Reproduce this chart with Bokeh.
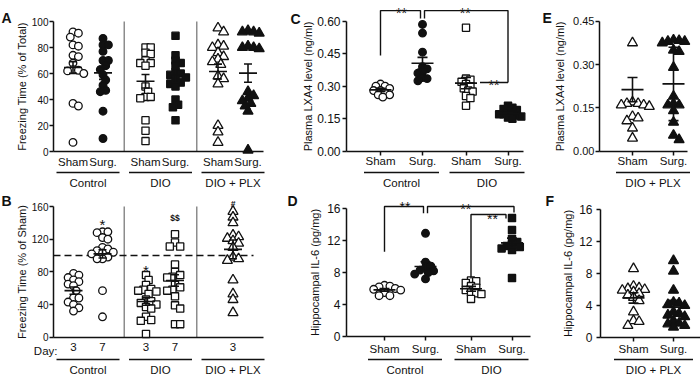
from bokeh.plotting import figure
from bokeh.models import (Range1d, FixedTicker, LinearAxis, PrintfTickFormatter,
                          CustomJSTickFormatter)
from bokeh.layouts import column, row
from bokeh.embed import file_html
from bokeh.resources import INLINE
from bokeh.core.properties import value

FONT = "Liberation Sans"
INK = "#111111"
RULE = "#8c8c8c"

# ---------------- A: freezing time, % of total ----------------
a_groups = ["Control", "DIO", "DIO + PLX"]
a_arms = ["Sham", "Surg."]
a_ctrl_sham = [92, 91, 88, 82, 81, 74, 73, 68, 63, 62.5, 62, 60, 37, 35, 7]
a_ctrl_surg = [87, 82, 82, 77, 70, 70, 66, 63, 59, 55, 51, 47, 46, 31, 10]
a_dio_sham = [80, 80, 76, 75, 70, 68, 68, 66, 50, 46, 42, 42, 41, 24, 16, 8]
a_dio_surg = [89, 74, 70, 68, 66, 61, 60, 59, 57, 55, 53, 52, 50, 40, 36, 34, 24]
a_plx_sham = [95, 92, 82, 81, 80, 76, 73, 71, 69, 67, 58, 56, 52, 20, 15, 7]
a_plx_surg = [93, 92, 92, 91, 81, 80, 80, 79, 46, 43, 41, 39, 37, 35, 31, 1]
a_mean = [64.6, 60.5, 54.0, 55.8, 61.5, 60.3]
a_sem = [4.5, 5.0, 5.2, 3.0, 5.7, 7.0]
a_ticks = [0, 20, 40, 60, 80, 100]

# ---------------- B: freezing time, % of sham ----------------
b_groups = ["Control", "DIO", "DIO + PLX"]
b_days = ["3", "7", "3", "7", "3"]
b_ctrl_d3 = [78, 76, 73, 70, 68, 65, 63, 57, 48, 48, 43, 40, 36, 32]
b_ctrl_d7 = [129, 129, 128, 122, 120, 110, 108, 106, 104, 103, 102, 98, 96, 96, 57, 25]
b_dio_d3 = [76, 70, 64, 59, 58, 57, 56, 53, 46, 44, 42, 40, 37, 35, 25, 21, 20, 4]
b_dio_d7 = [126, 116, 111, 111, 89, 80, 76, 74, 73, 64, 61, 58, 57, 50, 39, 35, 16, 16]
b_plx_d3 = [154, 147, 140, 125, 123, 121, 118, 115, 110, 98, 96, 94, 70, 53, 46, 30]
b_mean = [57.0, 102.0, 43.7, 69.4, 107.5]
b_sem = [4.5, 5.0, 4.5, 7.0, 11.5]
b_marks = ["", "*", "*", "$$", "#"]
b_ref = 100
b_ticks = [0, 40, 80, 120, 160]

# ---------------- C: plasma LXA4 ----------------
c_groups = ["Control", "DIO"]
c_arms = ["Sham", "Surg."]
c_ctrl_sham = [0.31, 0.30, 0.30, 0.29, 0.28, 0.28, 0.27, 0.26, 0.26, 0.25]
c_ctrl_surg = [0.585, 0.545, 0.457, 0.39, 0.38, 0.365, 0.36, 0.34, 0.335, 0.325]
c_dio_sham = [0.57, 0.335, 0.33, 0.32, 0.31, 0.30, 0.29, 0.28, 0.275, 0.255, 0.245, 0.21]
c_dio_surg = [0.21, 0.20, 0.195, 0.19, 0.18, 0.175, 0.17, 0.17, 0.165, 0.16, 0.155, 0.15]
c_mean = [0.283, 0.406, 0.314, 0.173]
c_sem = [0.007, 0.027, 0.026, 0.007]
c_ticks = [0.0, 0.15, 0.30, 0.45, 0.60]

# ---------------- D: hippocampal IL-6 ----------------
d_groups = ["Control", "DIO"]
d_arms = ["Sham", "Surg."]
d_ctrl_sham = [6.4, 6.3, 6.2, 6.0, 5.9, 5.8, 5.5, 5.1, 5.1]
d_ctrl_surg = [12.9, 9.3, 8.8, 8.6, 8.3, 8.2, 8.0, 7.8, 7.2]
d_dio_sham = [7.0, 6.9, 6.7, 6.3, 6.1, 5.8, 5.5, 5.4, 5.3, 4.7]
d_dio_surg = [14.8, 13.3, 12.2, 11.8, 11.5, 11.3, 11.2, 11.0, 10.8, 7.3]
d_mean = [5.83, 8.75, 5.96, 11.7]
d_sem = [0.17, 0.6, 0.3, 0.6]
d_ticks = [0, 4, 8, 12, 16]

# ---------------- E: plasma LXA4, DIO + PLX ----------------
e_group = "DIO + PLX"
e_arms = ["Sham", "Surg."]
e_plx_sham = [0.375, 0.17, 0.165, 0.165, 0.16, 0.16, 0.155, 0.12, 0.115, 0.105, 0.08, 0.045]
e_plx_surg = [0.385, 0.383, 0.38, 0.38, 0.375, 0.35, 0.345, 0.29, 0.19, 0.165, 0.16, 0.16,
              0.14, 0.10, 0.055, 0.04]
e_mean = [0.213, 0.233]
e_sem = [0.042, 0.127]
e_ticks = [0.0, 0.15, 0.30, 0.45]

# ---------------- F: hippocampal IL-6, DIO + PLX ----------------
f_group = "DIO + PLX"
f_arms = ["Sham", "Surg."]
f_plx_sham = [8.6, 6.4, 6.2, 6.1, 6.0, 5.9, 5.7, 5.5, 5.3, 5.0, 4.6, 3.2, 2.1, 2.0, 1.5]
f_plx_surg = [9.6, 8.3, 5.9, 4.4, 4.3, 4.1, 4.0, 3.2, 3.0, 2.8, 2.6, 2.1, 1.8, 1.7, 1.5, 1.3]
f_mean = [4.95, 3.8]
f_sem = [0.65, 0.85]
f_ticks = [0, 4, 8, 12, 16]

SIZES = {"circle": 7.6, "square": 7.2, "triangle": 10.0}
# minimum centre spacing (px) used when spreading points sideways
SPREAD = {"circle": 5.4, "square": 5.2, "triangle": 5.6}


class Panel:
    """One figure whose frame fills it; axes sit at fixed data locations."""

    def __init__(self, fx, fy, w, h, frame_left, c0, unit, ytop_px, yzero_px, ymax):
        self.c0, self.unit = c0, unit
        self.yzero = yzero_px
        self.s = (yzero_px - ytop_px) / ymax
        self.frame_left = frame_left
        self.p = figure(width=w, height=h, title=None,
                        x_range=Range1d(self.xd(fx), self.xd(fx + w)),
                        y_range=Range1d(self.yd(fy + h), self.yd(fy)),
                        x_axis_type=None, output_backend="svg", toolbar_location=None,
                        min_border=0)
        self.p.outline_line_color = None
        self.p.ygrid.visible = False
        self.p.background_fill_color = "white"
        self.p.border_fill_color = "white"

    def xd(self, px):
        return (px - self.c0) / self.unit

    def yd(self, py):
        return (self.yzero - py) / self.s


def swarm(vals, s, coll, step):
    order = sorted(range(len(vals)), key=lambda i: -vals[i])
    cands = [0.0]
    for j in range(1, 20):
        cands += [j * step, -j * step]
    placed, offs = [], [0.0] * len(vals)
    for i in order:
        yy = vals[i] * s
        pick = cands[-1]
        for c in cands:
            if all((c - dx) ** 2 + (yy - qy) ** 2 >= coll ** 2 for dx, qy in placed):
                pick = c
                break
        placed.append((pick, yy))
        offs[i] = pick
    return offs


def draw_group(P, xc, vals, marker, filled, m, e, hw_mean, hw_cap, tight=1.0):
    coll = SPREAD[marker] * tight
    offs = swarm(vals, P.s, coll, coll / 2)
    xs = [xc + o / P.unit for o in offs]
    P.p.scatter(x=xs, y=vals, marker=marker, size=SIZES[marker],
                fill_color=INK if filled else "white", line_color=INK, line_width=1.3)
    hm, hc = hw_mean / P.unit, hw_cap / P.unit
    P.p.segment(x0=[xc - hm, xc, xc - hc, xc - hc], y0=[m, m - e, m + e, m - e],
                x1=[xc + hm, xc, xc + hc, xc + hc], y1=[m, m + e, m + e, m - e],
                line_color=INK, line_width=1.6)


def style_yaxis(P, ticks, title, tick_size, s1, s2, fmt=None):
    ax = P.p.yaxis[0]
    ax.fixed_location = P.xd(P.frame_left)
    ax.bounds = (ticks[0], ticks[-1])
    ax.ticker = FixedTicker(ticks=ticks, minor_ticks=[])
    if fmt:
        ax.formatter = PrintfTickFormatter(format=fmt)
    ax.axis_line_color = INK
    ax.axis_line_width = 1.5
    ax.major_tick_line_color = INK
    ax.major_tick_line_width = 1.5
    ax.major_tick_out = 4
    ax.major_tick_in = 0
    ax.minor_tick_line_color = None
    ax.major_label_text_font = FONT
    ax.major_label_text_font_size = tick_size
    ax.major_label_text_color = INK
    ax.major_label_standoff = s1
    ax.axis_label = title
    ax.axis_label_text_font = FONT
    ax.axis_label_text_font_size = "11px"
    ax.axis_label_text_font_style = "normal"
    ax.axis_label_text_color = INK
    ax.axis_label_standoff = s2


def style_xaxis(P, positions, labels, end_px, tick_out, standoff):
    ax = LinearAxis(fixed_location=0, bounds=(P.xd(P.frame_left), P.xd(end_px)),
                    ticker=FixedTicker(ticks=positions, minor_ticks=[]),
                    formatter=CustomJSTickFormatter(args=dict(names=labels),
                                                    code="return names[index]"))
    ax.axis_line_color = INK
    ax.axis_line_width = 1.5
    ax.major_tick_out = tick_out
    ax.major_tick_in = 0
    ax.major_tick_line_width = 1.5
    ax.major_tick_line_color = INK if tick_out else None
    ax.minor_tick_line_color = None
    ax.major_label_standoff = standoff
    ax.major_label_text_font = FONT
    ax.major_label_text_font_size = "11.5px"
    ax.major_label_text_color = INK
    P.p.add_layout(ax, "below")


def texts(P, xs, labels, py, size="11.5px", style="normal", baseline="middle", align="center"):
    P.p.text(x=xs, y=[P.yd(py)] * len(xs), text=labels, text_align=align,
             text_baseline=baseline, text_font=value(FONT), text_font_size=value(size),
             text_font_style=style, text_color=INK)


def underlines(P, centers, half_px, py):
    h = half_px / P.unit
    P.p.segment(x0=[c - h for c in centers], y0=[P.yd(py)] * len(centers),
                x1=[c + h for c in centers], y1=[P.yd(py)] * len(centers),
                line_color=INK, line_width=1.5)


def letter(P, txt, px, py):
    texts(P, [P.xd(px)], [txt], py, size="14px", style="bold", align="left")


def stars(P, xs, baselines_px, labels, size, style="normal"):
    P.p.text(x=xs, y=[P.yd(b) for b in baselines_px], text=labels, text_align="center",
             text_baseline="alphabetic", text_font=value(FONT), text_font_size=value(size),
             text_font_style=style, text_color=INK)


# ---------------- panel A ----------------
A = Panel(0, 0, 285, 188, 53, 87.5, 72.5, 21, 151, 100)
dA = 15 / A.unit
a_x = [g + sgn * dA for g in range(3) for sgn in (-1, 1)]
A.p.segment(x0=[0.5, 1.5], y0=[0, 0], x1=[0.5, 1.5], y1=[a_ticks[-1]] * 2,
            line_color=RULE, line_width=1.5)
a_series = [a_ctrl_sham, a_ctrl_surg, a_dio_sham, a_dio_surg, a_plx_sham, a_plx_surg]
a_style = [("circle", False), ("circle", True), ("square", False), ("square", True),
           ("triangle", False), ("triangle", True)]
for xc, vals, (mk, fl), m, e in zip(a_x, a_series, a_style, a_mean, a_sem):
    draw_group(A, xc, vals, mk, fl, m, e, 9, 4)
style_yaxis(A, a_ticks, "Freezing Time (% of Total)", "10px", 1, 1)
style_xaxis(A, a_x, a_arms * 3, 263, 0, 4)
underlines(A, [0, 1, 2], 31.5, 172)
texts(A, [0, 1, 2], a_groups, 182)
letter(A, "A", 1, 17)

# ---------------- panel B ----------------
B = Panel(0, 188, 285, 188, 53, 87.5, 72.5, 206, 336.7, 160)
dB = 14.5 / B.unit
b_x = [0 - dB, 0 + dB, 1 - dB, 1 + dB, 2]
B.p.segment(x0=[0.5, 1.5], y0=[0, 0], x1=[0.5, 1.5], y1=[b_ticks[-1]] * 2,
            line_color=RULE, line_width=1.5)
B.p.segment(x0=[B.xd(53)], y0=[b_ref], x1=[B.xd(253)], y1=[b_ref],
            line_color=INK, line_width=1.5, line_dash="7 4")
b_series = [b_ctrl_d3, b_ctrl_d7, b_dio_d3, b_dio_d7, b_plx_d3]
for xc, vals, mk, m, e in zip(b_x, b_series, ["circle", "circle", "square", "square", "triangle"],
                              b_mean, b_sem):
    draw_group(B, xc, vals, mk, False, m, e, 9, 4)
style_yaxis(B, b_ticks, "Freezing Time (% of Sham)", "10px", 1, 1)
style_xaxis(B, b_x, b_days, 263, 0, 6)
texts(B, [B.xd(57)], ["Day:"], 350, align="right")
underlines(B, [0, 1, 2], 31.5, 359)
texts(B, [0, 1, 2], b_groups, 369.5)
stars(B, [b_x[1], b_x[2]], [223.6, 270.3], [b_marks[1], b_marks[2]], "15px")
stars(B, [b_x[3], b_x[4]], [217, 203], [b_marks[3], b_marks[4]], "8.5px", "bold")
letter(B, "B", 1, 200)

# ---------------- panel C ----------------
C = Panel(285, 0, 253, 188, 346, 401, 85.5, 20.7, 150.7, 0.6)
dC = 21 / C.unit
c_x = [g + sgn * dC for g in range(2) for sgn in (-1, 1)]
c_series = [c_ctrl_sham, c_ctrl_surg, c_dio_sham, c_dio_surg]
c_style = [("circle", False), ("circle", True), ("square", False), ("square", True)]
for xc, vals, (mk, fl), m, e in zip(c_x, c_series, c_style, c_mean, c_sem):
    draw_group(C, xc, vals, mk, fl, m, e, 11, 5, tight=0.85)
style_yaxis(C, c_ticks, "Plasma LXA4 level (ng/ml)", "12px", 2, 0, "%.2f")
style_xaxis(C, c_x, c_arms * 2, 523, 4, 0)
underlines(C, [0, 1], 37.5, 172)
texts(C, [0, 1], c_groups, 182)
letter(C, "C", 290, 18)

# significance brackets: Control Sham vs Surg., Control Surg. vs DIO Surg., DIO Sham vs Surg.
gC = 2 / C.unit
C.p.multi_line(xs=[[c_x[0], c_x[0], c_x[1] - gC, c_x[1] - gC],
                   [c_x[1] + gC, c_x[1] + gC, c_x[3], c_x[3]],
                   [c_x[2] + 14 / C.unit, c_x[3]]],
               ys=[[0.442, 0.649, 0.649, 0.612], [0.612, 0.649, 0.649, 0.317], [0.317, 0.317]],
               line_color=INK, line_width=1.4)
stars(C, [(c_x[0] + c_x[1]) / 2, (c_x[1] + c_x[3]) / 2, (c_x[2] + 14 / C.unit + c_x[3]) / 2],
      [12.5, 12.5, 84], ["**", "**", "**"], "14px")

# ---------------- panel D ----------------
D = Panel(285, 188, 253, 188, 346, 404.5, 86.5, 208, 336, 16)
dD = 20.5 / D.unit
d_x = [g + sgn * dD for g in range(2) for sgn in (-1, 1)]
d_series = [d_ctrl_sham, d_ctrl_surg, d_dio_sham, d_dio_surg]
d_style = [("circle", False), ("circle", True), ("square", False), ("square", True)]
for xc, vals, (mk, fl), m, e in zip(d_x, d_series, d_style, d_mean, d_sem):
    draw_group(D, xc, vals, mk, fl, m, e, 11, 5)
style_yaxis(D, d_ticks, "Hippocampal IL-6 (pg/mg)", "12px", 2, 3)
style_xaxis(D, d_x, d_arms * 2, 530, 4, 2)
underlines(D, [0, 1], 37, 359)
texts(D, [0, 1], d_groups, 369.5)
letter(D, "D", 287, 200)

gD = 2 / D.unit
D.p.multi_line(xs=[[d_x[0], d_x[0], d_x[1] - gD, d_x[1] - gD],
                   [d_x[1] + gD, d_x[1] + gD, d_x[3] + gD, d_x[3] + gD],
                   [d_x[2], d_x[2], d_x[3] - 6 / D.unit, d_x[3] - 6 / D.unit]],
               ys=[[10.6, 16.25, 16.25, 15.4], [15.4, 16.25, 16.25, 15.5],
                   [7.25, 15.25, 15.25, 14.75]],
               line_color=INK, line_width=1.4)
stars(D, [(d_x[0] + d_x[1]) / 2, (d_x[1] + d_x[3]) / 2 - 3 / D.unit,
          (d_x[2] + d_x[3] - 6 / D.unit) / 2 + 4 / D.unit],
      [206, 208, 218], ["**", "**", "**"], "14px")

# ---------------- panel E ----------------
E = Panel(538, 0, 162, 188, 599, 652.5, 86, 20.7, 150.7, 0.45)
dE = 20.5 / E.unit
e_x = [-dE, dE]
for xc, vals, fl, m, e in zip(e_x, [e_plx_sham, e_plx_surg], [False, True], e_mean, e_sem):
    draw_group(E, xc, vals, "triangle", fl, m, e, 11, 5)
style_yaxis(E, e_ticks, "Plasma LXA4 level (ng/ml)", "11px", 1, 4, "%.2f")
style_xaxis(E, e_x, e_arms, 687, 4, 0)
underlines(E, [0], 37, 172)
texts(E, [0], [e_group], 182)
letter(E, "E", 542, 17.5)

# ---------------- panel F ----------------
F = Panel(538, 188, 162, 188, 600, 653, 86, 209, 337, 16)
dF = 20 / F.unit
f_x = [-dF, dF]
for xc, vals, fl, m, e in zip(f_x, [f_plx_sham, f_plx_surg], [False, True], f_mean, f_sem):
    draw_group(F, xc, vals, "triangle", fl, m, e, 11, 5)
style_yaxis(F, f_ticks, "Hippocampal IL-6 (pg/mg)", "12px", 4, 2)
style_xaxis(F, f_x, f_arms, 700, 4, 1)
underlines(F, [0], 39.5, 359)
texts(F, [0], [f_group], 369.5)
letter(F, "F", 545, 200.5)

layout = column(row(A.p, C.p, E.p), row(B.p, D.p, F.p))
open("out.html", "w").write(file_html(layout, INLINE))
